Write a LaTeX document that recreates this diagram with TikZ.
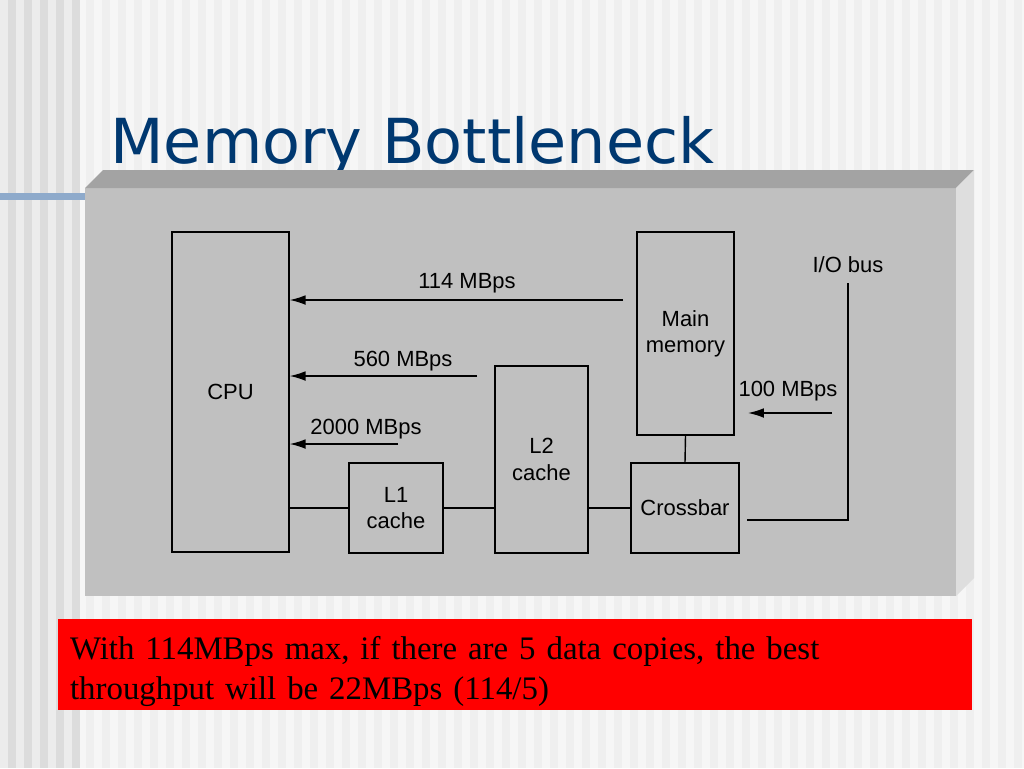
\documentclass[tikz,border=0pt]{standalone}
\usepackage{fontspec}
\newfontfamily\diagfont{Liberation Sans}
\newfontfamily\titlefont{DejaVu Sans}
\newfontfamily\notefont{Liberation Serif}
\usetikzlibrary{arrows.meta,positioning}
\definecolor{titleblue}{RGB}{0,56,112}
\definecolor{panelgray}{RGB}{192,192,192}
\definecolor{bevtop}{RGB}{163,163,163}
\definecolor{bevside}{RGB}{222,222,222}
\definecolor{barblue}{RGB}{142,170,203}
\definecolor{stripeA}{RGB}{236,236,236}
\definecolor{stripeB}{RGB}{220,220,220}
\definecolor{stripeC}{RGB}{246,246,246}
\definecolor{stripeD}{RGB}{239,239,239}
\begin{document}
\begin{tikzpicture}[x=0.02cm,y=-0.02cm,
  unit/.style={draw,line width=0.8pt,inner sep=0pt,align=center,font=\diagfont\fontsize{12.5}{15}\selectfont},
  rate/.style={font=\diagfont\fontsize{12.5}{15}\selectfont,inner sep=1pt},
  flow/.style={line width=0.8pt,-{Latex[length=9pt,width=5.5pt]}},
  wire/.style={line width=0.8pt}]
\useasboundingbox (0,0) rectangle (1024,768);

%background stripes
\fill[stripeC] (0,0) rectangle (1024,768);
\fill[stripeA] (0,0) rectangle (78,768);
\foreach \i in {8,24,...,72} \fill[stripeB] (\i,0) rectangle ++(8,768);
\foreach \i in {86,102,...,1020} \fill[stripeD] (\i,0) rectangle ++(8,768);
\fill[barblue] (0,193) rectangle (85,200);

\node[anchor=base west,inner sep=0pt,text=titleblue,font=\titlefont\fontsize{35.3}{40}\selectfont] (title) at (110,163) {Memory Bottleneck};

%panel
\fill[panelgray] (85,188) rectangle (956,596);
\fill[bevtop] (85,188) -- (103,170) -- (974,170) -- (956,188) -- cycle;
\fill[bevside] (956,188) -- (974,170) -- (974,578) -- (956,596) -- cycle;

\node[unit,minimum width=2.34cm,minimum height=6.4cm] (cpu) at (230.5,392) {\raisebox{-3pt}{CPU}};
\node[unit,minimum width=1.88cm,minimum height=1.8cm] (l1) at (396,508) {L1\\cache};
\node[unit,minimum width=1.86cm,minimum height=3.74cm] (l2) at (541.5,459.5) {L2\\cache};
\node[unit,minimum width=1.94cm,minimum height=4.06cm] (mem) at (685.5,333.5) {Main\\memory};
\node[unit,minimum width=2.16cm,minimum height=1.8cm] (xbar) at (685,508) {Crossbar};

\draw[wire] (l1.west) -- (l1.west -| cpu.east);
\draw[wire] (l2.west |- l1.east) -- (l1.east);
\draw[wire] (xbar.west) -- (xbar.west -| l2.east);
\draw[wire] (mem.south) -- (xbar.north);

\coordinate (m114) at (623,300);
\coordinate (m560) at (477,376);
\coordinate (m2000) at (398,444);
\coordinate (m100) at (832,413);
\draw[flow] (m114) -- (m114 -| cpu.east);
\draw[flow] (m560) -- (m560 -| cpu.east);
\draw[flow] (m2000) -- (m2000 -| cpu.east);
\draw[flow] (m100) -- ++(-84,0);
\node[rate] (r114) at (467,283) {114 MBps};
\node[rate] (r560) at (403,361) {560 MBps};
\node[rate] (r2000) at (366,429) {2000 MBps};
\node[rate] (r100) at (788,391) {100 MBps};

\node[rate] (io) at (848,265) {I/O bus};
\coordinate (iotop) at (848,283);
\coordinate (iocorner) at (848,520);
\draw[wire] (iotop) -- (iocorner) -- ([xshift=4]iocorner -| xbar.east);

\node[fill=red,minimum width=18.28cm,minimum height=1.82cm,text width=17.8cm,inner xsep=0.24cm,inner ysep=0pt,align=left,font=\notefont\fontsize{18.7}{22.7}\selectfont] (note) at (515,664.5) {\rule{0pt}{21pt}With 114MBps max, if there are 5 data copies, the best\\throughput will be 22MBps (114/5)};
\end{tikzpicture}
\end{document}
